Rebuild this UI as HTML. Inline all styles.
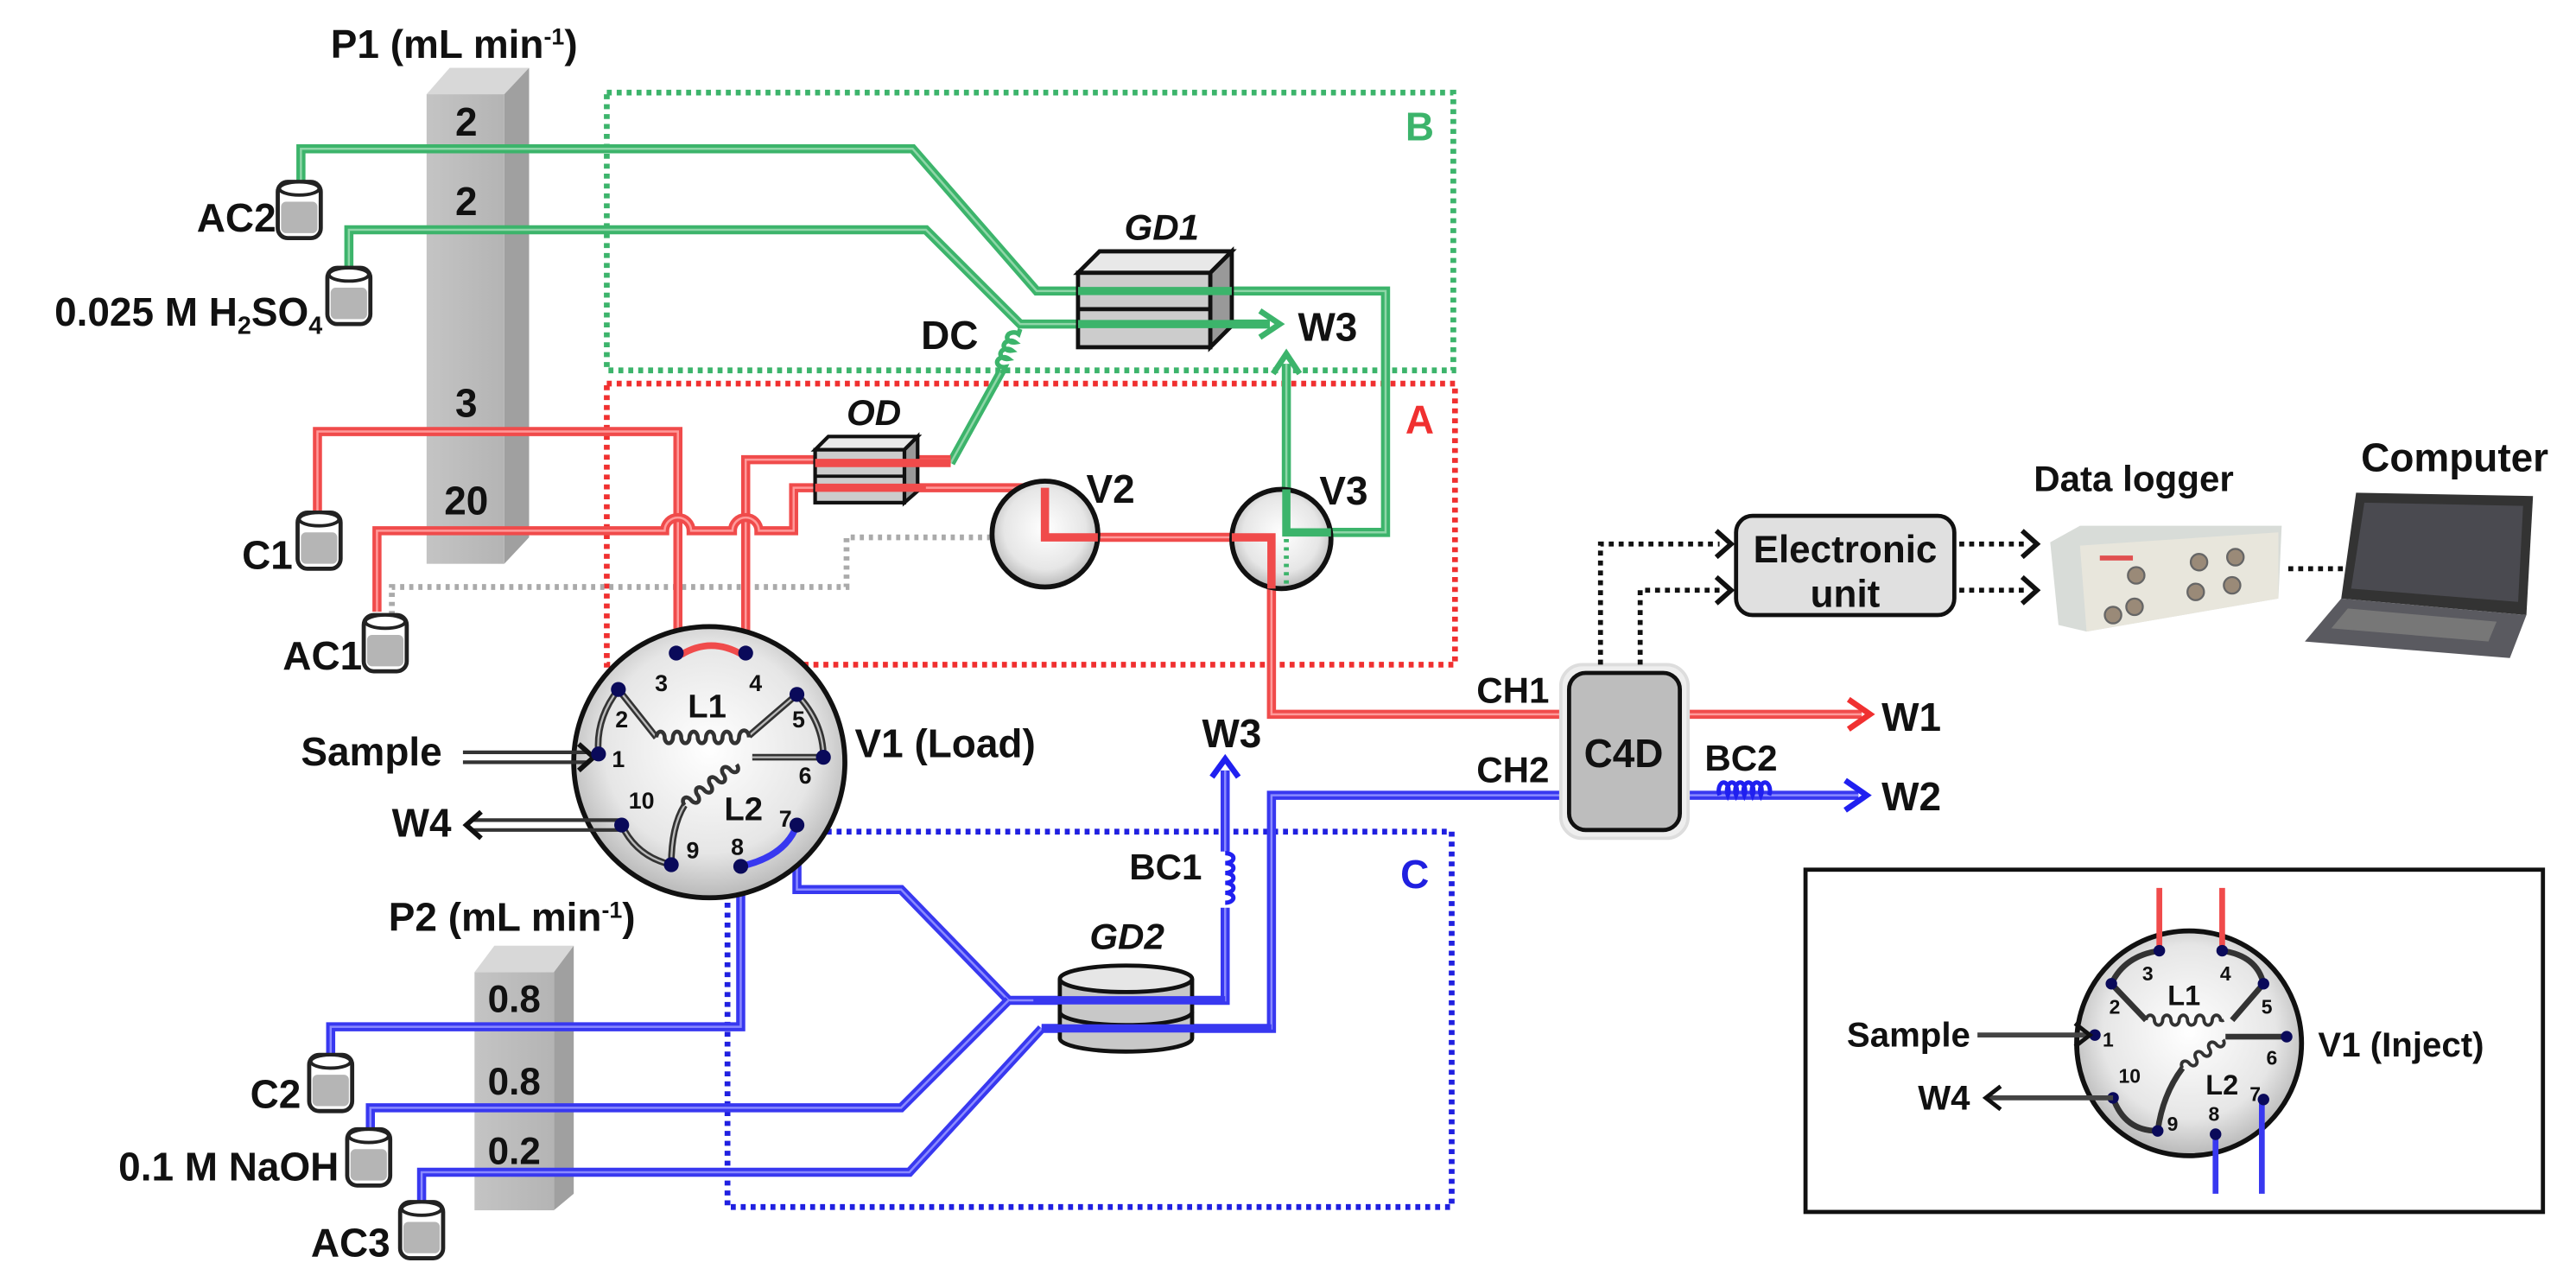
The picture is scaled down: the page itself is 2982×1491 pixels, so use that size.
<!DOCTYPE html>
<html><head><meta charset="utf-8"><style>
html,body{margin:0;padding:0;background:#fff}
svg{display:block}
text{font-family:"Liberation Sans",sans-serif;font-weight:bold;fill:#111}
.g{stroke:#3cb46b;stroke-width:5.5;fill:none;stroke-linejoin:miter}
.gi{stroke:#8fd6a8;stroke-width:1.3;fill:none}
.r{stroke:#f04b4b;stroke-width:5.5;fill:none}
.ri{stroke:#ff9a9a;stroke-width:1.3;fill:none}
.b{stroke:#3838f0;stroke-width:5.5;fill:none}
.bi{stroke:#8a8aff;stroke-width:1.3;fill:none}
.port{fill:#0a0a5a}
.num{font-size:14px}
</style></head><body>
<svg width="2982" height="1491" viewBox="0 0 1558 779" xmlns="http://www.w3.org/2000/svg">
<defs>
<radialGradient id="vg" cx="0.5" cy="0.45" r="0.55"><stop offset="0" stop-color="#fff"/><stop offset="0.7" stop-color="#e6e6e6"/><stop offset="1" stop-color="#b8b8b8"/></radialGradient>
<linearGradient id="bar" x1="0" x2="1"><stop offset="0" stop-color="#c4c4c4"/><stop offset="1" stop-color="#b4b4b4"/></linearGradient>
<g id="vial"><rect x="-13" y="0" width="26" height="34" rx="6" fill="#fff" stroke="#222" stroke-width="2.5"/><rect x="-11" y="12" width="22" height="19" rx="3" fill="#b5b5b5"/><ellipse cx="0" cy="4" rx="12" ry="4" fill="#fff" stroke="#222" stroke-width="2"/></g>
<path id="pAC2" d="M182,114 V90 H552 L627,176 H838 V322 H778 V220"/>
<path id="pH2" d="M211,166 V139 H560 L617,196 H768"/>
<path id="pOD" d="M575,280 L606,224"/>
<path id="pC1" d="M192,314 V261 H410 V394"/>
<path id="pP4" d="M451,394 V278 H575"/>
<path id="pAC1" d="M228,370 V321 H402 a8,8 0 0 1 16,0 H443 a8,8 0 0 1 16,0 H480 V295 H632 V325 H769 V432 H949"/>
<path id="pW1" d="M1016,432 H1126"/>
<path id="pB7" d="M482,499 V538 H545 L610,605 H741 V466"/>
<path id="pNa" d="M610,605 L545,670 H224 V688"/>
<path id="pAC3" d="M630,622 L550,709 H255 V732"/>
<path id="pC2" d="M448,524 V621 H200 V642"/>
<path id="pCH2" d="M630,622 H769 V481 H949"/>
<path id="pW2" d="M1016,481 H1124"/>
</defs>

<!-- dotted boxes -->
<rect x="367" y="56" width="512" height="168" fill="none" stroke="#3cb46b" stroke-width="3.5" stroke-dasharray="3,3"/>
<rect x="367" y="232" width="513" height="170" fill="none" stroke="#f03030" stroke-width="3.5" stroke-dasharray="3,3"/>
<rect x="440" y="503" width="438" height="227" fill="none" stroke="#2020e0" stroke-width="3.5" stroke-dasharray="3,3"/>
<text x="850" y="85" style="fill:#3cb46b;font-size:24px">B</text>
<text x="850" y="262" style="fill:#f03030;font-size:24px">A</text>
<text x="847" y="537" style="fill:#2020e0;font-size:24px">C</text>

<!-- P1 bar -->
<text x="200" y="35" style="font-size:24px">P1 (mL min<tspan dy="-8" font-size="14">-1</tspan><tspan dy="8">)</tspan></text>
<polygon points="258,57 272,41 320,41 305,57" fill="#d8d8d8"/>
<polygon points="305,57 320,41 320,325 305,341" fill="#a0a0a0"/>
<rect x="258" y="57" width="47" height="284" fill="url(#bar)"/>
<g style="font-size:24px" text-anchor="middle"><text x="282" y="82">2</text><text x="282" y="130">2</text><text x="282" y="252">3</text><text x="282" y="311">20</text></g>

<!-- P2 bar -->
<text x="235" y="563" style="font-size:24px">P2 (mL min<tspan dy="-8" font-size="14">-1</tspan><tspan dy="8">)</tspan></text>
<polygon points="287,588 299,572 347,572 335,588" fill="#d8d8d8"/>
<polygon points="335,588 347,572 347,722 335,732" fill="#a0a0a0"/>
<rect x="287" y="588" width="48" height="144" fill="url(#bar)"/>
<g style="font-size:23px" text-anchor="middle"><text x="311" y="612">0.8</text><text x="311" y="662">0.8</text><text x="311" y="704">0.2</text></g>

<!-- gray dotted -->
<path d="M237,372 V355 H512 V325 H625" fill="none" stroke="#aaa" stroke-width="3.5" stroke-dasharray="2.5,3"/>

<!-- pipes -->
<g>
<use href="#pAC2" class="g"/><use href="#pAC2" class="gi"/>
<use href="#pH2" class="g"/><use href="#pH2" class="gi"/>
<use href="#pOD" class="g"/><use href="#pOD" class="gi"/>
<use href="#pC1" class="r"/><use href="#pC1" class="ri"/>
<use href="#pP4" class="r"/><use href="#pP4" class="ri"/>
<use href="#pAC1" class="r"/><use href="#pAC1" class="ri"/>
<use href="#pW1" class="r"/><use href="#pW1" class="ri"/>
<use href="#pB7" class="b"/><use href="#pB7" class="bi"/>
<use href="#pNa" class="b"/><use href="#pNa" class="bi"/>
<use href="#pAC3" class="b"/><use href="#pAC3" class="bi"/>
<use href="#pC2" class="b"/><use href="#pC2" class="bi"/>
<use href="#pCH2" class="b"/><use href="#pCH2" class="bi"/>
<use href="#pW2" class="b"/><use href="#pW2" class="bi"/>
</g>
<!-- DC coil -->
<path d="M606,226 l2,-4 a4,3 0 1 1 2,-5 a4,3 0 1 1 2,-5 a4,3 0 1 1 2,-5 a4,3 0 1 1 2,-5 l1,-3" fill="none" stroke="#3cb46b" stroke-width="2.8"/>
<text x="557" y="211" style="font-size:24px">DC</text>
<!-- arrows -->
<path d="M762,188 L774,196 L762,204" fill="none" stroke="#3cb46b" stroke-width="3.5"/>
<path d="M770,226 L778,214 L786,226" fill="none" stroke="#3cb46b" stroke-width="3.5"/>
<text x="785" y="206" style="font-size:24px">W3</text>
<path d="M1118,423 L1131,432 L1118,441" fill="none" stroke="#f03030" stroke-width="3.5"/>
<text x="1138" y="442" style="font-size:24px">W1</text>
<path d="M1116,472 L1129,481 L1116,490" fill="none" stroke="#2020f0" stroke-width="3.5"/>
<text x="1138" y="490" style="font-size:24px">W2</text>
<path d="M733,470 L741,459 L749,470" fill="none" stroke="#2020f0" stroke-width="3.5"/>
<text x="727" y="452" style="font-size:24px">W3</text>
<!-- BC1 coil -->
<rect x="735" y="515" width="12" height="34" fill="#fff"/>
<path d="M741,516 a5,3 0 1 1 0,6 a5,3 0 1 1 0,6 a5,3 0 1 1 0,6 a5,3 0 1 1 0,6 a5,3 0 1 1 0,6" fill="none" stroke="#2020f0" stroke-width="2.6"/>
<text x="683" y="532" style="font-size:22px">BC1</text>
<!-- BC2 coil -->
<path d="M1040,481 a3,5 0 1 1 5,0 a3,5 0 1 1 5,0 a3,5 0 1 1 5,0 a3,5 0 1 1 5,0 a3,5 0 1 1 5,0 a3,5 0 1 1 5,0" fill="none" stroke="#2020f0" stroke-width="2.6"/>
<text x="1031" y="466" style="font-size:22px">BC2</text>

<!-- GD1 -->
<text x="680" y="145" style="font-size:22px;font-style:italic">GD1</text>
<polygon points="652,165 665,152 745,152 732,165" fill="#e8e8e8" stroke="#111" stroke-width="2.5"/>
<polygon points="732,165 745,152 745,197 732,210" fill="#999" stroke="#111" stroke-width="2.5"/>
<rect x="652" y="165" width="80" height="45" fill="#ccc" stroke="#111" stroke-width="2.5"/>
<line x1="652" y1="187" x2="732" y2="187" stroke="#111" stroke-width="2.5"/>
<line x1="652" y1="176" x2="745" y2="176" stroke="#3cb46b" stroke-width="5"/>
<line x1="652" y1="196" x2="768" y2="196" stroke="#3cb46b" stroke-width="5"/>

<!-- OD -->
<text x="512" y="257" style="font-size:22px;font-style:italic">OD</text>
<polygon points="493,272 501,264 555,264 547,272" fill="#e8e8e8" stroke="#111" stroke-width="2.2"/>
<polygon points="547,272 555,264 555,297 547,304" fill="#999" stroke="#111" stroke-width="2.2"/>
<rect x="493" y="272" width="54" height="32" fill="#ccc" stroke="#111" stroke-width="2.2"/>
<line x1="493" y1="288" x2="547" y2="288" stroke="#111" stroke-width="2"/>
<line x1="493" y1="280" x2="575" y2="280" stroke="#f04b4b" stroke-width="5"/>
<line x1="493" y1="295" x2="560" y2="295" stroke="#f04b4b" stroke-width="5"/>

<!-- V2 V3 -->
<circle cx="632" cy="323" r="32" fill="url(#vg)" stroke="#111" stroke-width="3"/>
<path d="M632,295 V325 H664" fill="none" stroke="#f04b4b" stroke-width="5"/>
<text x="657" y="304" style="font-size:24px">V2</text>
<circle cx="775" cy="326" r="30" fill="url(#vg)" stroke="#111" stroke-width="3"/>
<path d="M745,325 H769 V356" fill="none" stroke="#f04b4b" stroke-width="5"/>
<path d="M778,296 V322 H805" fill="none" stroke="#3cb46b" stroke-width="5"/>
<path d="M778,326 V356" fill="none" stroke="#3cb46b" stroke-width="3" stroke-dasharray="2,3"/>
<text x="798" y="305" style="font-size:24px">V3</text>

<!-- GD2 -->
<text x="659" y="574" style="font-size:22px;font-style:italic">GD2</text>
<path d="M641,592 V628 A40,8 0 0 0 721,628 V592" fill="#c8c8c8" stroke="#111" stroke-width="2.5"/>
<path d="M641,612 A40,8 0 0 0 721,612" fill="none" stroke="#111" stroke-width="2.5"/>
<ellipse cx="681" cy="592" rx="40" ry="8" fill="#e6e6e6" stroke="#111" stroke-width="2.5"/>
<line x1="625" y1="605" x2="741" y2="605" stroke="#3838f0" stroke-width="5"/>
<line x1="630" y1="622" x2="769" y2="622" stroke="#3838f0" stroke-width="5"/>

<!-- vials -->
<use href="#vial" x="181" y="110"/><use href="#vial" x="211" y="162"/>
<use href="#vial" x="193" y="310"/><use href="#vial" x="233" y="372"/>
<use href="#vial" x="200" y="638"/><use href="#vial" x="223" y="683"/>
<use href="#vial" x="255" y="727"/>
<g style="font-size:24px" text-anchor="end">
<text x="167" y="140">AC2</text>
<text x="195" y="197">0.025 M H<tspan font-size="15" dy="5">2</tspan><tspan dy="-5">SO</tspan><tspan font-size="15" dy="5">4</tspan></text>
<text x="177" y="344">C1</text>
<text x="219" y="405">AC1</text>
<text x="182" y="670">C2</text>
<text x="205" y="714">0.1 M NaOH</text>
<text x="236" y="760">AC3</text>
</g>

<!-- V1 main -->
<circle cx="429" cy="461" r="82" fill="url(#vg)" stroke="#111" stroke-width="3"/>
<path d="M412,396 Q430,385 449,396" fill="none" stroke="#f04b4b" stroke-width="4"/>
<g>
<path d="M374,417 L397,446 M453,445 L482,420 M374,417 Q360,435 362,456 M482,420 Q498,437 498,458 M498,458 H455 M414,487 Q406,500 406,523 M376,499 Q385,518 406,523" fill="none" stroke="#333" stroke-width="4"/>
<path d="M374,417 L397,446 M453,445 L482,420 M374,417 Q360,435 362,456 M482,420 Q498,437 498,458 M498,458 H455 M414,487 Q406,500 406,523 M376,499 Q385,518 406,523" fill="none" stroke="#bbb" stroke-width="1.2"/>
<path d="M397,446 a2.5,3.5 0 0 1 5,0 a2.5,3.5 0 0 0 5,0 a2.5,3.5 0 0 1 5,0 a2.5,3.5 0 0 0 5,0 a2.5,3.5 0 0 1 5,0 a2.5,3.5 0 0 0 5,0 a2.5,3.5 0 0 1 5,0 a2.5,3.5 0 0 0 5,0 a2.5,3.5 0 0 1 5,0 a2.5,3.5 0 0 0 5,0 a2.5,3.5 0 0 1 6,0" fill="none" stroke="#333" stroke-width="2.4"/>
<path d="M0,0 a2.5,3.5 0 0 1 5,0 a2.5,3.5 0 0 0 5,0 a2.5,3.5 0 0 1 5,0 a2.5,3.5 0 0 0 5,0 a2.5,3.5 0 0 1 5,0 a2.5,3.5 0 0 0 5,0 a2.5,3.5 0 0 1 5,0 a2.5,3.5 0 0 0 5,0" fill="none" stroke="#333" stroke-width="2.4" transform="translate(414,487) rotate(-38)"/>
<path d="M482,499 Q475,518 448,524" fill="none" stroke="#3838f0" stroke-width="4"/>
<path d="M280,455 H356 M280,461 H356" stroke="#333" stroke-width="2.2"/>
<path d="M350,450 L359,458 L350,466" fill="none" stroke="#111" stroke-width="3"/>
<path d="M376,496 H285 M376,502 H285" stroke="#333" stroke-width="2.2"/>
<path d="M291,491 L282,499 L291,507" fill="none" stroke="#111" stroke-width="3"/>
<g class="port"><circle cx="409" cy="395" r="4.5"/><circle cx="451" cy="395" r="4.5"/><circle cx="374" cy="417" r="4.5"/><circle cx="482" cy="420" r="4.5"/><circle cx="362" cy="456" r="4.5"/><circle cx="498" cy="458" r="4.5"/><circle cx="376" cy="499" r="4.5"/><circle cx="482" cy="499" r="4.5"/><circle cx="406" cy="523" r="4.5"/><circle cx="448" cy="524" r="4.5"/></g>
<g class="num" text-anchor="middle"><text x="400" y="418">3</text><text x="457" y="418">4</text><text x="376" y="440">2</text><text x="483" y="440">5</text><text x="374" y="464">1</text><text x="487" y="474">6</text><text x="388" y="489">10</text><text x="475" y="500">7</text><text x="419" y="519">9</text><text x="446" y="517">8</text></g>
<text x="416" y="434" style="font-size:20px">L1</text>
<text x="438" y="496" style="font-size:20px">L2</text>
</g>
<text x="182" y="463" style="font-size:24px">Sample</text>
<text x="237" y="506" style="font-size:24px">W4</text>
<text x="517" y="458" style="font-size:24px">V1 (Load)</text>

<!-- C4D -->
<text x="893" y="425" style="font-size:22px">CH1</text>
<text x="893" y="473" style="font-size:22px">CH2</text>
<rect x="944" y="402" width="77" height="105" rx="13" fill="#eee" stroke="#ddd" stroke-width="2"/>
<rect x="949" y="407" width="67" height="95" rx="10" fill="#bdbdbd" stroke="#111" stroke-width="2.5"/>
<text x="982" y="464" text-anchor="middle" style="font-size:24px">C4D</text>
<!-- dotted signal -->
<g fill="none" stroke="#111" stroke-width="3" stroke-dasharray="3,3">
<path d="M968,402 V329 H1040"/><path d="M992,402 V357 H1040"/>
<path d="M1185,329 H1226"/><path d="M1185,357 H1226"/>
<path d="M1384,344 H1432"/>
</g>
<g fill="none" stroke="#111" stroke-width="3">
<path d="M1038,321 L1047,329 L1038,337"/><path d="M1038,349 L1047,357 L1038,365"/>
<path d="M1223,321 L1232,329 L1223,337"/><path d="M1223,349 L1232,357 L1223,365"/>
<path d="M1429,336 L1438,344 L1429,352"/>
</g>
<rect x="1050" y="312" width="132" height="60" rx="10" fill="#e0e0e0" stroke="#111" stroke-width="2.5"/>
<text x="1116" y="340" text-anchor="middle" style="font-size:23px">Electronic</text>
<text x="1116" y="367" text-anchor="middle" style="font-size:23px">unit</text>

<!-- data logger -->
<text x="1230" y="297" style="font-size:22px">Data logger</text>
<polygon points="1240,328 1258,318 1380,318 1378,362 1262,382 1245,378" fill="#d8dcd8"/>
<polygon points="1258,330 1378,322 1378,362 1262,382" fill="#e8e6dc"/>
<rect x="1270" y="336" width="20" height="3" fill="#e05050"/>
<g fill="#9a8a78" stroke="#666" stroke-width="1.2"><circle cx="1292" cy="348" r="5"/><circle cx="1291" cy="367" r="5"/><circle cx="1330" cy="340" r="5"/><circle cx="1328" cy="358" r="5"/><circle cx="1352" cy="337" r="5"/><circle cx="1350" cy="354" r="5"/><circle cx="1278" cy="372" r="5"/></g>

<!-- laptop -->
<text x="1428" y="285" style="font-size:24px">Computer</text>
<polygon points="1425,298 1532,300 1528,372 1416,362" fill="#333"/>
<polygon points="1430,304 1526,306 1523,364 1422,356" fill="#4a4a50"/>
<polygon points="1416,362 1528,372 1518,398 1394,388" fill="#5a5a60"/>
<polygon points="1420,368 1510,376 1505,388 1410,380" fill="#777"/>

<!-- inset -->
<rect x="1092" y="526" width="446" height="207" fill="#fff" stroke="#111" stroke-width="2.5"/>
<circle cx="1324" cy="631" r="68" fill="url(#vg)" stroke="#111" stroke-width="3"/>
<path d="M1306,575 Q1285,578 1277,595 M1344,575 Q1365,578 1369,595 M1277,595 L1298,617 M1369,595 L1350,617 M1383,627 H1346 M1320,646 Q1308,662 1305,684 M1278,664 Q1285,684 1305,684" fill="none" stroke="#333" stroke-width="3.5"/>
<path d="M1306,575 V537 M1344,575 V537" stroke="#f04b4b" stroke-width="3.5"/>
<path d="M1340,686 V722 M1368,665 V722" stroke="#3838f0" stroke-width="3.5"/>
<path d="M1298,617 a2.5,3 0 0 1 5,0 a2.5,3 0 0 0 5,0 a2.5,3 0 0 1 5,0 a2.5,3 0 0 0 5,0 a2.5,3 0 0 1 5,0 a2.5,3 0 0 0 5,0 a2.5,3 0 0 1 5,0 a2.5,3 0 0 0 5,0 a2.5,3 0 0 1 5,0 a2.5,3 0 0 0 2,0" fill="none" stroke="#333" stroke-width="2"/>
<path d="M0,0 a2.5,3 0 0 1 5,0 a2.5,3 0 0 0 5,0 a2.5,3 0 0 1 5,0 a2.5,3 0 0 0 5,0 a2.5,3 0 0 1 5,0 a2.5,3 0 0 0 5,0" fill="none" stroke="#333" stroke-width="2" transform="translate(1320,646) rotate(-35)"/>
<g class="port"><circle cx="1306" cy="575" r="3.5"/><circle cx="1344" cy="575" r="3.5"/><circle cx="1369" cy="595" r="3.5"/><circle cx="1383" cy="627" r="3.5"/><circle cx="1369" cy="665" r="3.5"/><circle cx="1340" cy="686" r="3.5"/><circle cx="1305" cy="684" r="3.5"/><circle cx="1278" cy="664" r="3.5"/><circle cx="1267" cy="626" r="3.5"/><circle cx="1277" cy="595" r="3.5"/></g>
<g style="font-size:12px" text-anchor="middle"><text x="1299" y="593">3</text><text x="1346" y="593">4</text><text x="1279" y="613">2</text><text x="1371" y="613">5</text><text x="1275" y="633">1</text><text x="1374" y="644">6</text><text x="1288" y="655">10</text><text x="1364" y="666">7</text><text x="1314" y="684">9</text><text x="1339" y="678">8</text></g>
<text x="1311" y="608" style="font-size:17px">L1</text>
<text x="1334" y="662" style="font-size:17px">L2</text>
<path d="M1196,626 H1262" stroke="#444" stroke-width="3"/>
<path d="M1255,619 L1264,626 L1255,633" fill="none" stroke="#111" stroke-width="2.5"/>
<path d="M1278,664 H1203" stroke="#444" stroke-width="3"/>
<path d="M1210,657 L1201,664 L1210,671" fill="none" stroke="#111" stroke-width="2.5"/>
<text x="1117" y="633" style="font-size:21px">Sample</text>
<text x="1160" y="671" style="font-size:21px">W4</text>
<text x="1402" y="639" style="font-size:21px">V1 (Inject)</text>
</svg>
</body></html>
